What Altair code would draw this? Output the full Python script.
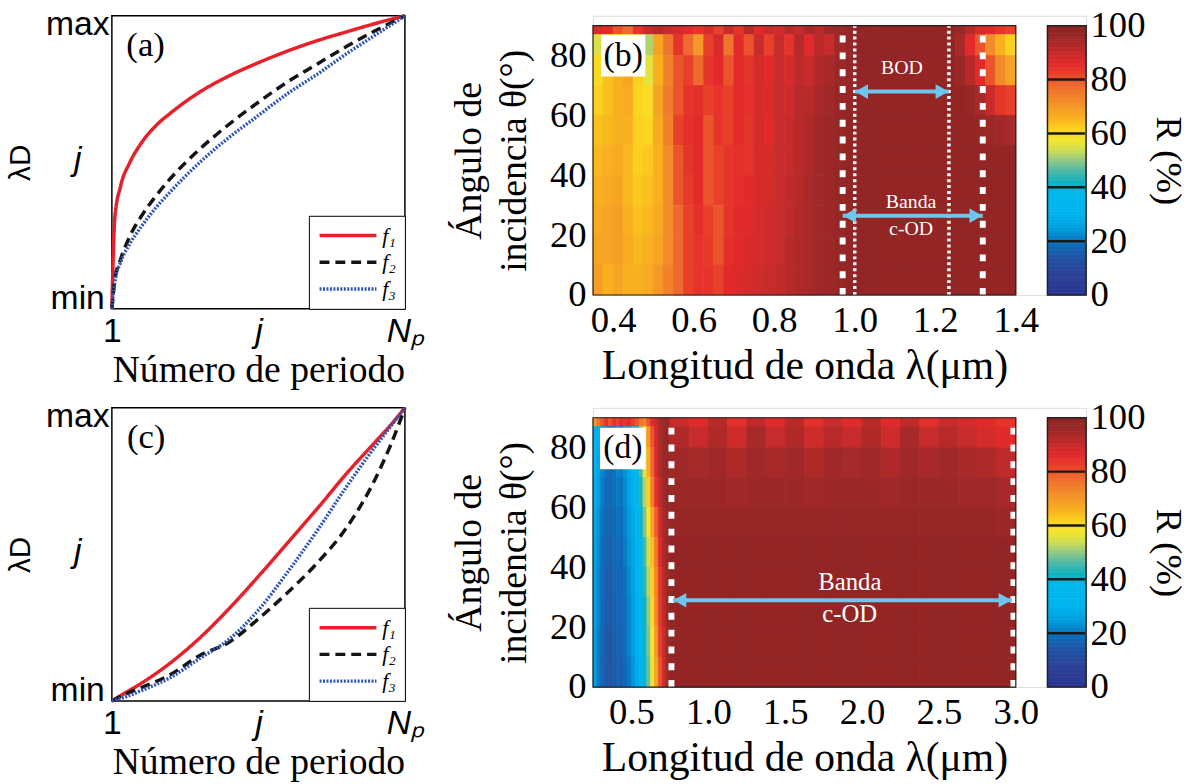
import altair as alt
import pandas as pd

SERIF = "Liberation Serif"
SANS = "Liberation Sans"

# ---------------- (a) / (c): design functions ----------------
series_names = ["f₁", "f₂", "f₃"]
series_colors = ["#E8202A", "#141414", "#2F55B4"]
series_dash = [[1, 0], [10, 6], [2, 1.5]]
series_width = [3.5, 3.5, 2.5]

period_a = [0.0, 0.01, 0.03, 0.06, 0.10, 0.15, 0.20, 0.30, 0.40, 0.50, 0.60, 0.70, 0.80, 0.90, 1.00]
a_f1 = [0.0, 0.31, 0.42, 0.497, 0.565, 0.625, 0.668, 0.74, 0.795, 0.84, 0.88, 0.915, 0.945, 0.974, 1.0]
a_f2 = [0.0, 0.10, 0.17, 0.245, 0.315, 0.385, 0.445, 0.545, 0.63, 0.705, 0.775, 0.835, 0.895, 0.95, 1.0]
a_f3 = [0.0, 0.09, 0.16, 0.22, 0.28, 0.345, 0.40, 0.50, 0.585, 0.66, 0.735, 0.80, 0.87, 0.935, 1.0]

period_c = [0.0, 0.05, 0.10, 0.20, 0.30, 0.40, 0.50, 0.60, 0.70, 0.80, 0.90, 0.95, 1.00]
c_f1 = [0.0, 0.03, 0.06, 0.13, 0.215, 0.315, 0.425, 0.54, 0.655, 0.775, 0.885, 0.94, 1.0]
c_f2 = [0.0, 0.025, 0.045, 0.09, 0.155, 0.20, 0.28, 0.37, 0.47, 0.59, 0.76, 0.87, 1.0]
c_f3 = [0.0, 0.015, 0.035, 0.08, 0.145, 0.21, 0.31, 0.44, 0.58, 0.73, 0.87, 0.935, 1.0]

design_ticks = [0, 0.5, 1]

# ---------------- colour map (R %) ----------------
cmap_stops = [0, 8, 14, 20, 25, 30, 38, 42, 46, 50, 54, 58, 62, 66, 72, 78, 82, 86, 90, 95, 100]
cmap_colors = ["#2B3590", "#2B4298", "#2155A5", "#0A72BE", "#009FE0", "#00B3EE", "#00B8EC",
               "#10B2BE", "#4AB8A8", "#90C888", "#D0DE52", "#F5E62A", "#FCD01E", "#F8B020",
               "#F28C2A", "#EE6A2E", "#E8402A", "#E22A2B", "#C82B2B", "#A02828", "#8A2323"]
cbar_ticks = [0, 20, 40, 60, 80, 100]
cbar_marks = [20, 40, 60, 80]

angle_domain = [0, 90]
angle_edges = [90, 87, 80, 70, 60, 50, 40, 30, 20, 10, 0]   # top -> bottom

# ---------------- (b) reflectance map ----------------
b_lambda_edges = [0.35, 0.375, 0.40, 0.425, 0.45, 0.475, 0.50, 0.525, 0.55, 0.575, 0.60, 0.625,
                  0.65, 0.675, 0.70, 0.725, 0.75, 0.775, 0.80, 0.825, 0.85, 0.875, 0.90, 0.925,
                  0.95, 0.975, 1.00, 1.025, 1.05, 1.075, 1.10, 1.125, 1.15, 1.175, 1.20, 1.225,
                  1.25, 1.275, 1.30, 1.325, 1.35, 1.375, 1.40]
b_R = [
    [88, 86, 80, 78, 84, 90, 92, 90, 88, 86, 84, 88, 82, 90, 84, 92, 86, 90, 88, 92, 90, 94, 92, 95, 96,
     97, 98, 98, 98, 98, 98, 98, 98, 98, 98, 98, 96, 92, 88, 86, 84, 82],
    [55, 58, 60, 62, 58, 52, 68, 76, 84, 78, 70, 82, 88, 76, 86, 80, 90, 82, 90, 84, 92, 86, 92, 90, 95,
     97, 98, 98, 98, 98, 98, 98, 98, 98, 98, 98, 94, 86, 80, 72, 66, 62],
    [60, 64, 66, 68, 62, 56, 66, 74, 80, 82, 78, 84, 86, 80, 86, 84, 88, 86, 90, 88, 91, 90, 93, 94, 96,
     97, 98, 98, 98, 98, 98, 98, 98, 98, 98, 98, 96, 92, 86, 80, 72, 68],
    [62, 64, 66, 67, 61, 60, 68, 75, 80, 84, 85, 82, 84, 82, 86, 85, 88, 87, 90, 89, 92, 92, 94, 95, 97,
     97, 98, 98, 98, 98, 98, 98, 98, 98, 98, 98, 98, 97, 94, 90, 84, 82],
    [64, 65, 66, 66, 62, 61, 67, 74, 82, 85, 86, 80, 84, 82, 86, 84, 88, 86, 90, 90, 92, 93, 95, 96, 97,
     98, 98, 98, 98, 98, 98, 98, 98, 98, 98, 98, 98, 98, 97, 96, 95, 94],
    [65, 66, 67, 65, 62, 63, 66, 72, 80, 84, 86, 80, 82, 84, 85, 84, 88, 88, 90, 90, 92, 93, 95, 96, 97,
     98, 98, 98, 98, 98, 98, 98, 98, 98, 98, 98, 98, 98, 98, 98, 98, 98],
    [66, 67, 68, 65, 63, 64, 66, 72, 80, 83, 86, 80, 82, 84, 85, 86, 88, 88, 90, 91, 92, 94, 95, 96, 97,
     98, 98, 98, 98, 98, 98, 98, 98, 98, 98, 98, 98, 98, 98, 98, 98, 98],
    [67, 68, 69, 66, 64, 65, 67, 72, 78, 82, 85, 82, 80, 84, 86, 86, 88, 89, 90, 91, 93, 94, 95, 96, 97,
     98, 98, 98, 98, 98, 98, 98, 98, 98, 98, 98, 98, 98, 98, 98, 98, 98],
    [68, 68, 69, 67, 65, 66, 68, 72, 78, 82, 84, 83, 80, 85, 86, 87, 88, 89, 90, 92, 93, 94, 95, 96, 97,
     98, 98, 98, 98, 98, 98, 98, 98, 98, 98, 98, 98, 98, 98, 98, 98, 98],
    [69, 66, 68, 66, 66, 67, 70, 74, 78, 82, 84, 84, 82, 86, 87, 88, 89, 90, 91, 92, 93, 94, 95, 96, 97,
     98, 98, 98, 98, 98, 98, 98, 98, 98, 98, 98, 98, 98, 98, 98, 98, 98],
]
b_domain = [0.35, 1.40]
b_ticks = [0.4, 0.6, 0.8, 1.0, 1.2, 1.4]
b_band_thick = [0.97, 1.318]
b_band_thin = [1.0, 1.234]
b_arrow_start = [1.0, 0.97]
b_arrow_end = [1.234, 1.318]
b_arrow_angle = [68, 26.5]
b_text = ["BOD", "Banda", "c-OD"]
b_text_lambda = [1.117, 1.14, 1.14]
b_text_angle = [76, 31, 22]

# ---------------- (d) reflectance map ----------------
d_lambda_edges = [0.25, 0.275, 0.30, 0.325, 0.35, 0.375, 0.40, 0.425, 0.45, 0.475, 0.50, 0.525,
                  0.55, 0.575, 0.60, 0.625, 0.65, 0.675, 0.70, 0.725, 0.75,
                  0.875, 1.0, 1.125, 1.25, 1.375, 1.5, 1.625, 1.75, 1.875, 2.0, 2.125, 2.25,
                  2.375, 2.5, 2.625, 2.75, 2.875, 3.0]
d_R = [
    [70, 76, 80, 84, 80, 84, 82, 86, 84, 86, 82, 80, 76, 74, 80, 86, 90, 94, 96, 97,
     90, 86, 92, 85, 91, 86, 92, 85, 90, 86, 92, 86, 91, 85, 90, 88, 86, 84],
    [32, 28, 24, 22, 20, 22, 24, 22, 26, 28, 34, 40, 50, 60, 70, 80, 88, 93, 96, 97,
     93, 90, 93, 89, 94, 90, 93, 89, 92, 90, 93, 89, 94, 90, 92, 90, 88, 86],
    [30, 26, 22, 20, 18, 20, 22, 21, 24, 28, 32, 38, 46, 56, 66, 78, 87, 93, 96, 97,
     95, 94, 95, 93, 95, 94, 95, 93, 95, 94, 95, 93, 95, 94, 95, 94, 93, 91],
    [29, 25, 21, 19, 18, 19, 21, 20, 23, 26, 30, 35, 43, 52, 62, 74, 84, 91, 95, 97,
     96, 96, 96, 95, 96, 96, 96, 95, 96, 96, 96, 95, 96, 96, 96, 95, 95, 94],
    [28, 24, 20, 18, 17, 18, 20, 19, 22, 25, 28, 33, 40, 49, 58, 68, 79, 88, 94, 96,
     97, 97, 97, 97, 97, 97, 97, 97, 97, 97, 97, 97, 97, 97, 97, 97, 97, 96],
    [27, 23, 19, 17, 16, 18, 19, 18, 21, 24, 27, 31, 38, 46, 54, 64, 75, 86, 93, 96,
     98, 98, 98, 98, 98, 98, 98, 98, 98, 98, 98, 98, 98, 98, 98, 98, 98, 98],
    [26, 22, 19, 16, 15, 17, 18, 18, 20, 23, 26, 30, 36, 44, 52, 62, 73, 84, 92, 96,
     98, 98, 98, 98, 98, 98, 98, 98, 98, 98, 98, 98, 98, 98, 98, 98, 98, 98],
    [26, 22, 18, 16, 15, 16, 18, 17, 19, 22, 25, 29, 35, 42, 50, 60, 72, 83, 91, 96,
     98, 98, 98, 98, 98, 98, 98, 98, 98, 98, 98, 98, 98, 98, 98, 98, 98, 98],
    [25, 21, 18, 15, 14, 16, 17, 17, 19, 22, 25, 29, 34, 41, 49, 58, 70, 82, 90, 96,
     98, 98, 98, 98, 98, 98, 98, 98, 98, 98, 98, 98, 98, 98, 98, 98, 98, 98],
    [25, 21, 17, 15, 14, 15, 17, 16, 18, 21, 24, 28, 33, 40, 48, 57, 68, 80, 89, 95,
     98, 98, 98, 98, 98, 98, 98, 98, 98, 98, 98, 98, 98, 98, 98, 98, 98, 98],
]
d_domain = [0.25, 3.0]
d_ticks = [0.5, 1.0, 1.5, 2.0, 2.5, 3.0]
d_band_thick = [0.76, 2.985]
d_band_thin = []
d_arrow_start = [0.77]
d_arrow_end = [2.975]
d_arrow_angle = [29]
d_text = ["Banda", "c-OD"]
d_text_lambda = [1.92, 1.92]
d_text_angle = [35, 24.5]

for rows, edges in ((b_R, b_lambda_edges), (d_R, d_lambda_edges)):
    for r in rows:
        assert len(r) == len(edges) - 1, (len(r), len(edges))

# ---------------- layout constants ----------------
DES_W, DES_H = 296, 296
HEAT_W, HEAT_H = 427, 272
HEAT_TOP = 10                     # heat map starts a little below the design panel
LAYER_H = HEAT_H + HEAT_TOP
CB_X0, CB_X1 = 459, 498
PANEL_W = 498

col_scale = alt.Scale(domain=cmap_stops, range=cmap_colors, interpolate="rgb")


def design_panel(xs, ys_list, tag, tag_xy):
    rows = []
    for name, ys in zip(series_names, ys_list):
        for x, y in zip(xs, ys):
            rows.append({"x": x, "y": y, "f": name})
    df = pd.DataFrame(rows)
    xsc = alt.Scale(domain=[0, 1], nice=False, zero=False)
    ysc = alt.Scale(domain=[0, 1], nice=False, zero=False)
    x_axis = alt.Axis(
        values=design_ticks,
        labelExpr="datum.value == 0 ? '1' : (datum.value == 1 ? 'Nₚ' : 'j')",
        labelFont=SANS, labelFontSize=34,
        labelFontStyle={"condition": {"test": "datum.value == 0", "value": "normal"}, "value": "italic"},
        labelPadding=6, labelFlush=False, labelOverlap=False, ticks=False, domain=False, grid=False,
        title="Número de periodo", titleFont=SERIF, titleFontSize=38, titleFontWeight="normal",
        titlePadding=3, titleColor="black", labelColor="black")
    y_axis = alt.Axis(
        values=design_ticks,
        labelExpr="datum.value == 0 ? 'min' : (datum.value == 1 ? 'max' : 'j')",
        labelFont=SANS, labelFontSize=34, labelAlign="center", labelBaseline="top",
        labelFontStyle={"condition": {"test": "datum.value == 0.5", "value": "italic"}, "value": "normal"},
        labelOffset={"condition": [{"test": "datum.value == 1", "value": -8},
                                   {"test": "datum.value == 0.5", "value": -20}], "value": -27},
        labelPadding=35, labelFlush=False, labelOverlap=False, ticks=False, domain=False, grid=False,
        title="λD", titleFont=SANS, titleFontSize=30, titleFontWeight="normal", titlePadding=10,
        titleColor="black", labelColor="black")
    legend = alt.Legend(title=None, orient="bottom-right", offset=0, symbolType="stroke",
                        symbolSize=3300, clipHeight=22, rowPadding=5, labelFont=SERIF,
                        labelFontStyle="italic", labelFontSize=22, labelOffset=4,
                        strokeColor="black", fillColor="white", padding=9, cornerRadius=0)
    X = lambda f: alt.X(f, scale=xsc, axis=x_axis)
    Y = lambda f: alt.Y(f, scale=ysc, axis=y_axis)
    lines = alt.Chart(df).mark_line(interpolate="monotone").encode(
        x=X("x:Q"), y=Y("y:Q"),
        color=alt.Color("f:N", scale=alt.Scale(domain=series_names, range=series_colors), legend=legend),
        strokeDash=alt.StrokeDash("f:N", scale=alt.Scale(domain=series_names, range=series_dash), legend=legend),
        strokeWidth=alt.StrokeWidth("f:N", scale=alt.Scale(domain=series_names, range=series_width), legend=legend),
    )
    lab = alt.Chart(pd.DataFrame({"x": [tag_xy[0]], "y": [tag_xy[1]], "t": [tag]})).mark_text(
        font=SERIF, fontSize=35, color="black").encode(x=X("x:Q"), y=Y("y:Q"), text="t:N")
    return alt.layer(lines, lab).properties(
        width=DES_W, height=DES_H, view=alt.ViewBackground(stroke="black", strokeWidth=1.5))


def heat_panel(lam_edges, R_rows, dom, ticks, thick, thin, a_start, a_end, a_ang,
               texts, t_lam, t_ang, t_size, tag, tag_box, tag_xy):
    cells = []
    for i, row in enumerate(R_rows):
        for j, v in enumerate(row):
            cells.append({"l0": lam_edges[j], "l1": lam_edges[j + 1],
                          "a0": angle_edges[i + 1], "a1": angle_edges[i], "R": v})
    cdf = pd.DataFrame(cells)
    xsc = alt.Scale(domain=dom, range=[0, HEAT_W], nice=False, zero=False)
    ysc = alt.Scale(domain=angle_domain, range=[LAYER_H, HEAT_TOP], nice=False, zero=False)
    x_axis = alt.Axis(values=ticks, format=".1f", labelFont=SERIF, labelFontSize=37,
                      labelPadding=8, labelFlush=False, labelOverlap=False, ticks=False,
                      domain=False, grid=False, title="Longitud de onda λ(μm)", titleFont=SERIF,
                      titleFontSize=42, titleFontWeight="normal", titlePadding=7,
                      labelColor="black", titleColor="black")
    y_axis = alt.Axis(values=[0, 20, 40, 60, 80], labelFont=SERIF, labelFontSize=37,
                      labelPadding=7, labelFlush=False, labelOverlap=False, ticks=False,
                      domain=False, grid=False, title=["Ángulo de", "incidencia θ(°)"],
                      titleFont=SERIF, titleFontSize=38, titleFontWeight="normal",
                      titlePadding=16, titleLineHeight=46, labelColor="black", titleColor="black")
    X = lambda f: alt.X(f, scale=xsc, axis=x_axis)
    Y = lambda f: alt.Y(f, scale=ysc, axis=y_axis)
    heat = alt.Chart(cdf).mark_rect(strokeWidth=0.8).encode(
        x=X("l0:Q"), x2="l1", y=Y("a0:Q"), y2="a1",
        color=alt.Color("R:Q", scale=col_scale, legend=None),
        stroke=alt.Stroke("R:Q", scale=col_scale, legend=None),
    )
    frame = alt.Chart(pd.DataFrame({"l0": [dom[0]], "l1": [dom[1]],
                                    "a0": [angle_domain[0]], "a1": [angle_domain[1]]})).mark_rect(
        fillOpacity=0, stroke="#222222", strokeWidth=1.2).encode(x=X("l0:Q"), x2="l1", y=Y("a0:Q"), y2="a1")
    layers = [heat]
    if thick:
        layers.append(alt.Chart(pd.DataFrame({"l": thick, "a0": angle_domain[0], "a1": angle_domain[1]})).mark_rule(
            color="white", strokeWidth=6, strokeDash=[7, 10]).encode(x=X("l:Q"), y=Y("a0:Q"), y2="a1"))
    if thin:
        layers.append(alt.Chart(pd.DataFrame({"l": thin, "a0": angle_domain[0], "a1": angle_domain[1]})).mark_rule(
            color="white", strokeWidth=3.5, strokeDash=[3, 3]).encode(x=X("l:Q"), y=Y("a0:Q"), y2="a1"))
    adf = pd.DataFrame({"s": a_start, "e": a_end, "a": a_ang})
    arrow_col = "#6EC6EE"
    layers.append(alt.Chart(adf).mark_rule(color=arrow_col, strokeWidth=4).encode(
        x=X("s:Q"), x2="e", y=Y("a:Q")))
    layers.append(alt.Chart(adf).mark_point(shape="triangle-left", filled=True, size=220, opacity=1,
                                            color=arrow_col, xOffset=7).encode(x=X("s:Q"), y=Y("a:Q")))
    layers.append(alt.Chart(adf).mark_point(shape="triangle-right", filled=True, size=220, opacity=1,
                                            color=arrow_col, xOffset=-7).encode(x=X("e:Q"), y=Y("a:Q")))
    tdf = pd.DataFrame({"t": texts, "l": t_lam, "a": t_ang})
    layers.append(alt.Chart(tdf).mark_text(color="white", font=SERIF, fontSize=t_size).encode(
        x=X("l:Q"), y=Y("a:Q"), text="t:N"))
    layers.append(alt.Chart(pd.DataFrame({"l0": [tag_box[0]], "l1": [tag_box[1]],
                                          "a0": [tag_box[2]], "a1": [tag_box[3]]})).mark_rect(
        color="white").encode(x=X("l0:Q"), x2="l1", y=Y("a0:Q"), y2="a1"))
    layers.append(alt.Chart(pd.DataFrame({"t": [tag], "l": [tag_xy[0]], "a": [tag_xy[1]]})).mark_text(
        color="black", font=SERIF, fontSize=34).encode(x=X("l:Q"), y=Y("a:Q"), text="t:N"))
    layers.append(frame)
    heat_layer = alt.layer(*layers)

    # colour bar
    levels = list(range(100))
    cb = pd.DataFrame({"c0": [0] * 100, "c1": [1] * 100, "r0": levels,
                       "r1": [v + 1 for v in levels], "R": [v + 0.5 for v in levels]})
    cbx = alt.Scale(domain=[0, 1], range=[CB_X0, CB_X1], nice=False, zero=False)
    cby = alt.Scale(domain=[0, 100], range=[LAYER_H, HEAT_TOP], nice=False, zero=False)
    cb_axis = alt.Axis(orient="right", values=cbar_ticks, labelFont=SERIF, labelFontSize=37,
                       labelPadding=4, labelFlush=False, labelOverlap=False, ticks=False,
                       domain=False, grid=False, title="R (%)", titleFont=SERIF, titleFontSize=37,
                       titleFontWeight="normal", titleAngle=90, titlePadding=4,
                       labelColor="black", titleColor="black")
    CX = lambda f: alt.X(f, scale=cbx, axis=None)
    CY = lambda f: alt.Y(f, scale=cby, axis=cb_axis)
    cbar = alt.Chart(cb).mark_rect(strokeWidth=0.8).encode(
        x=CX("c0:Q"), x2="c1", y=CY("r0:Q"), y2="r1",
        color=alt.Color("R:Q", scale=col_scale, legend=None),
        stroke=alt.Stroke("R:Q", scale=col_scale, legend=None))
    cb_rules = alt.Chart(pd.DataFrame({"c0": [0] * 4, "c1": [0.97] * 4, "r": cbar_marks})).mark_rule(
        color="#1a1a1a", strokeWidth=2.5).encode(x=CX("c0:Q"), x2="c1", y=CY("r:Q"))
    cb_frame = alt.Chart(pd.DataFrame({"c0": [0], "c1": [1], "r0": [0], "r1": [100]})).mark_rect(
        fillOpacity=0, stroke="#222222", strokeWidth=1.5).encode(
        x=CX("c0:Q"), x2="c1", y=CY("r0:Q"), y2="r1")
    cb_layer = alt.layer(cbar, cb_rules, cb_frame)

    return alt.layer(heat_layer, cb_layer).resolve_scale(
        x="independent", y="independent").properties(width=PANEL_W, height=LAYER_H)


panel_a = design_panel(period_a, [a_f1, a_f2, a_f3], "(a)", (0.115, 0.90))
panel_c = design_panel(period_c, [c_f1, c_f2, c_f3], "(c)", (0.117, 0.90))
panel_b = heat_panel(b_lambda_edges, b_R, b_domain, b_ticks, b_band_thick, b_band_thin,
                     b_arrow_start, b_arrow_end, b_arrow_angle, b_text, b_text_lambda,
                     b_text_angle, 20, "(b)", (0.37, 0.48, 73, 87), (0.425, 80))
panel_d = heat_panel(d_lambda_edges, d_R, d_domain, d_ticks, d_band_thick, d_band_thin,
                     d_arrow_start, d_arrow_end, d_arrow_angle, d_text, d_text_lambda,
                     d_text_angle, 25, "(d)", (0.295, 0.593, 72.8, 86.7), (0.444, 79.8))

indep = dict(color="independent", stroke="independent", strokeDash="independent",
             strokeWidth="independent")
row1 = alt.hconcat(panel_a, panel_b, spacing=24).resolve_scale(**indep)
row2 = alt.hconcat(panel_c, panel_d, spacing=24).resolve_scale(**indep)
chart = alt.vconcat(row1, row2, spacing=8).resolve_scale(**indep).properties(
    padding={"left": 5, "top": 2, "right": 5, "bottom": 2}).configure_view(
    strokeWidth=0).configure(background="white")

chart.save("out.html", embed_options={"renderer": "svg", "actions": False})
